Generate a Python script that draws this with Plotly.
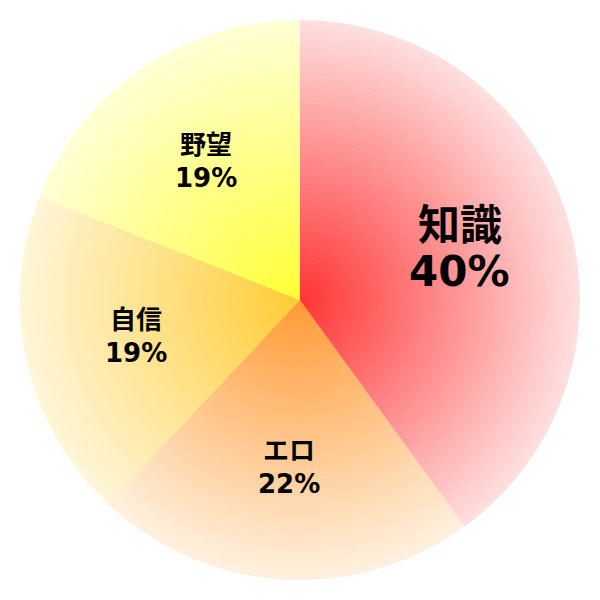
import math
import plotly.graph_objects as go

labels = ["知識", "エロ", "自信", "野望"]
values = [40, 22, 19, 19]
center_colors = [(255, 51, 51), (255, 153, 51), (255, 204, 51), (255, 255, 51)]
edge_colors = [(255, 222, 222), (255, 240, 222), (255, 245, 215), (255, 255, 212)]
font_sizes = [42, 26, 26, 26]

W = H = 600
R = 280          # pie radius in px
LAYERS = 60      # stacked pies fake the radial gradient


def mix(c0, c1, t):
    return "rgb({},{},{})".format(*[round(a + (b - a) * t) for a, b in zip(c0, c1)])


fig = go.Figure()
for k in range(LAYERS):
    f = 1 - k / LAYERS
    half = R * f
    fig.add_trace(go.Pie(
        labels=labels, values=values,
        sort=False, direction="clockwise", rotation=0,
        marker=dict(colors=[mix(c, e, f) for c, e in zip(center_colors, edge_colors)],
                    line=dict(width=0)),
        textinfo="none", hoverinfo="skip", showlegend=False,
        domain=dict(x=[(W / 2 - half) / W, (W / 2 + half) / W],
                    y=[(H / 2 - half) / H, (H / 2 + half) / H]),
    ))

# labels at 0.6 R along each slice's middle angle
total = sum(values)
start = 0
for lab, v, fs in zip(labels, values, font_sizes):
    mid = (start + v / 2) / total * 2 * math.pi
    start += v
    px_ = W / 2 + 0.6 * R * math.sin(mid)
    py_ = H / 2 - 0.6 * R * math.cos(mid)
    gap = 23 if fs > 30 else 16.5
    for txt, shift in ((lab, gap), (f"{v}%", -gap)):
        fig.add_annotation(
            x=px_ / W, y=1 - py_ / H, xref="paper", yref="paper",
            xanchor="center", yanchor="middle",
            text=f"<b>{txt}</b>", showarrow=False, yshift=shift,
            font=dict(family="DejaVu Sans, Noto Sans CJK JP", size=fs, color="black"),
        )

fig.update_layout(
    width=W, height=H, margin=dict(l=0, r=0, t=0, b=0),
    paper_bgcolor="white", plot_bgcolor="white",
)

fig.write_html("out.html", config={"displayModeBar": False},
               post_script="document.body.style.margin='0';")
